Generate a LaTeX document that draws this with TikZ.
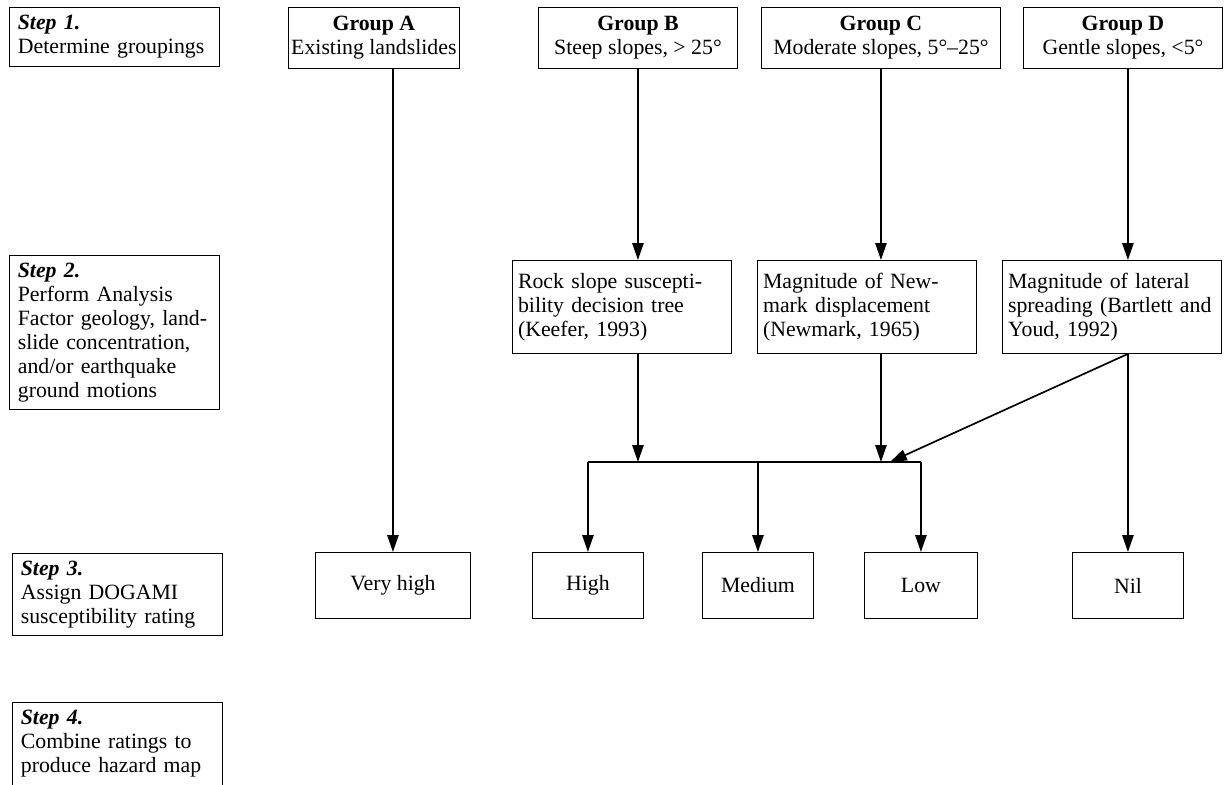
\documentclass[tikz,border=0pt]{standalone}
\usepackage{fontspec}
\setmainfont{Liberation Serif}
\usepackage{tikz}
\usetikzlibrary{arrows.meta}
\tikzset {
  font={\fontsize{15.5}{17}\selectfont},
  % boxes of the step column
  stepbox/.style = {draw, line width=0.6pt, anchor=north west, align=left, text width=4.83cm, inner xsep=6pt, inner ysep=5.5pt},
  % group boxes on top
  group/.style = {draw, line width=0.6pt, anchor=north west, align=center, minimum height=1.525cm, inner sep=2pt},
  % analysis boxes
  method/.style = {draw, line width=0.6pt, anchor=north west, align=left, minimum height=2.325cm, inner xsep=4pt},
  % susceptibility ratings
  rating/.style = {draw, line width=0.6pt, anchor=north west, minimum height=1.65cm},
  link/.style = {-{Triangle[length=0.42cm,width=0.28cm]}, line width=1.2pt},
  bus/.style = {line width=1.8pt},
}

\begin{document}
\begin{tikzpicture}[x=0.025cm, y=-0.025cm]
  \useasboundingbox (0,0) rectangle (1225,784);

  % step column
  \node[stepbox] (s1) at (9,7) {\textbf{\textit{Step 1.}}\\Determine groupings};
  \node[stepbox] (s2) at (9,255) {\textbf{\textit{Step 2.}}\\Perform Analysis\\Factor geology, land-\\slide concentration,\\and/or earthquake\\ground motions};
  \node[stepbox] (s3) at (12,553) {\textbf{\textit{Step 3.}}\\Assign DOGAMI\\susceptibility rating};
  % last box runs off the bottom edge
  \node[stepbox, text depth=1.65cm] (s4) at (12,702) {\textbf{\textit{Step 4.}}\\Combine ratings to\\produce hazard map};

  % groups
  \node[group, minimum width=4.175cm] (A) at (288,7) {\textbf{Group A}\\Existing landslides};
  \node[group, minimum width=4.975cm] (B) at (538,7) {\textbf{Group B}\\Steep slopes, > 25°};
  \node[group, minimum width=5.975cm] (C) at (761,7) {\textbf{Group C}\\Moderate slopes, 5°--25°};
  \node[group, minimum width=4.975cm] (D) at (1023,7) {\textbf{Group D}\\Gentle slopes, <5°};

  % analysis
  \node[method, text width=5.2cm] (B2) at (512,260) {Rock slope suscepti-\\bility decision tree\\(Keefer, 1993)};
  \node[method, text width=5.2cm] (C2) at (757,260) {Magnitude of New-\\mark displacement\\(Newmark, 1965)};
  \node[method, text width=5.2cm] (D2) at (1002,260) {Magnitude of lateral\\spreading (Bartlett and\\Youd, 1992)};

  % ratings
  \node[rating, minimum width=3.875cm] (vh) at (315,552) {Very high};
  \node[rating, minimum width=2.775cm] (high) at (532,552) {High};
  \node[rating, minimum width=2.775cm] (med) at (702,552) {Medium};
  \node[rating, minimum width=2.825cm] (low) at (864,552) {Low};
  \node[rating, minimum width=2.775cm] (nil) at (1072,552) {Nil};

  \coordinate (bar) at (0,462);
  \coordinate (join) at (890,462);

  \draw[link] (vh.north |- A.south) -- (vh.north);
  \draw[link] (B.south) -- (B.south |- B2.north);
  \draw[link] (C.south) -- (C.south |- C2.north);
  \draw[link] (nil.north |- D.south) -- (nil.north |- D2.north);

  \draw[link] (B.south |- B2.south) -- (B.south |- bar);
  \draw[link] (C.south |- C2.south) -- (C.south |- bar);
  \draw[link] (nil.north |- D2.south) -- (join);
  \draw[link] (nil.north |- D2.south) -- (nil.north);

  \draw[bus] (high.north |- bar) -- (low.north |- bar);
  \draw[link] (high.north |- bar) -- (high.north);
  \draw[link] (med.north |- bar) -- (med.north);
  \draw[link] (low.north |- bar) -- (low.north);
\end{tikzpicture}
\end{document}
